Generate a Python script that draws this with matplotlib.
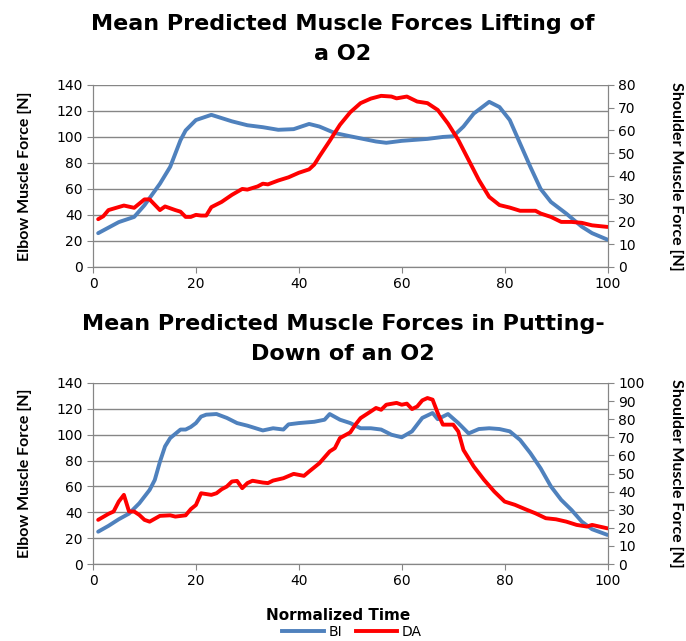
import matplotlib.pyplot as plt
from matplotlib.lines import Line2D

# lifting (top chart)
lift_bi_x = [1, 5, 8, 10, 13, 15, 17, 18, 20, 23, 27, 30, 33, 36, 39, 42, 44, 47, 50, 55,
             57, 60, 65, 68, 70, 72, 74, 77, 79, 81, 83, 85, 87, 89, 92, 95, 97, 100]
lift_bi = [26, 34.5, 38.5, 47.5, 64, 77, 97.5, 105, 113, 117, 112, 109, 107.5, 105.5, 106, 110, 108, 103, 100.5, 96.5,
           95.5, 97, 98.5, 100, 100.5, 108, 118, 127, 123, 113, 95, 77, 60, 50, 41, 31, 26, 21]
lift_da_x = [1, 2, 3, 6, 8, 10, 11, 13, 14, 16, 17, 18, 19, 20, 21, 22, 23, 25, 27, 29,
             30, 32, 33, 34, 36, 38, 40, 42, 43, 44, 46, 47, 48, 50, 52, 54, 56, 58, 59, 61,
             63, 65, 67, 69, 71, 73, 75, 77, 79, 81, 83, 86, 87, 89, 91, 93, 95, 97, 100]
lift_da = [21, 22.3, 25, 27, 26, 29.7, 29.7, 25, 26.6, 25, 24.3, 22, 22, 22.9, 22.6, 22.6, 26.3, 28.6, 31.7, 34.3,
           34, 35.4, 36.6, 36.3, 38, 39.4, 41.4, 42.9, 45, 48.6, 55.4, 59, 62.5, 68, 72, 74, 75.2, 74.9, 74.1, 74.9,
           72.7, 72, 69, 63, 55.8, 47, 38.2, 30.8, 27.2, 26.1, 24.7, 24.7, 23.5, 22, 19.8, 19.8, 19.4, 18.3, 17.6]

# putting down (bottom chart)
put_bi_x = [1, 3, 5, 7, 9, 11, 12, 13, 14, 15, 17, 18, 19, 20, 21, 22, 24, 26, 28, 30,
            33, 35, 37, 38, 40, 43, 45, 46, 48, 50, 52, 54, 56, 58, 60, 62, 64, 66, 67, 69,
            71, 73, 75, 77, 79, 81, 83, 85, 87, 89, 91, 93, 95, 97, 100]
put_bi = [25, 29.5, 34.6, 39, 47, 57.3, 65, 79, 91, 97.4, 104, 104, 106, 109, 114, 115.5, 116, 113, 109, 107,
          103.3, 105, 104, 108, 109, 110, 111.6, 116, 111.6, 109, 105, 105, 104, 100, 98, 102.6, 113, 116.8, 112, 116,
          109, 101, 104.4, 105, 104.4, 102.6, 96, 85.8, 74, 60, 49.6, 41.8, 32.8, 26.9, 22.5]
put_da_x = [1, 3, 4, 5, 6, 7, 8, 9, 10, 11, 13, 15, 16, 18, 19, 20, 21, 23, 24, 25,
            26, 27, 28, 29, 30, 31, 33, 34, 35, 37, 39, 41, 42, 44, 46, 47, 48, 50, 51, 52,
            54, 55, 56, 57, 59, 60, 61, 62, 63, 64, 65, 66, 67, 68, 70, 71, 72, 74, 76, 78,
            80, 82, 84, 86, 88, 90, 92, 94, 96, 97, 100]
put_da = [24.4, 27.7, 29, 34.5, 38.2, 29, 29, 27.1, 24.4, 23.4, 26.6, 26.9, 26.2, 26.9, 30.3, 32.6, 39.1, 38.2, 39.1, 41.3,
          42.8, 45.6, 45.9, 41.9, 44.7, 46, 45, 44.7, 46.1, 47.4, 49.8, 48.7, 51.1, 55.7, 62.2, 64, 69.6, 72.7, 77, 80.6,
          84.3, 86.2, 85.2, 88, 89, 88, 88.6, 85.6, 87, 90.4, 91.7, 90.8, 83.4, 77, 77, 73.2, 63, 53.9, 46.5, 40,
          34.5, 32.7, 30.3, 28, 25.3, 24.7, 23.4, 21.6, 20.7, 21.6, 19.7]

blue = '#4f81bd'
red = '#ff0000'
gray = '#868686'
label_font = ['Liberation Sans Narrow', 'Lato', 'DejaVu Sans']

fig = plt.figure(figsize=(6.86, 6.41), dpi=100)


def make_panel(rect, bx, by, rx, ry, rmax, rstep):
    ax = fig.add_axes(rect)
    ax2 = ax.twinx()
    ax.plot(bx, by, color=blue, lw=2.8, solid_capstyle='round', zorder=3)
    ax2.plot(rx, ry, color=red, lw=2.8, solid_capstyle='round', zorder=3)
    ax.set_xlim(0, 100)
    ax.set_ylim(0, 140)
    ax.set_xticks(range(0, 101, 20))
    ax.set_yticks(range(0, 141, 20))
    ax2.set_ylim(0, rmax)
    ax2.set_yticks(range(0, rmax + 1, rstep))
    ax.grid(axis='y', color=gray, lw=1)
    ax.set_axisbelow(True)
    for a in (ax, ax2):
        a.spines['top'].set_visible(False)
        for s in ('left', 'right', 'bottom'):
            a.spines[s].set_color(gray)
        a.tick_params(colors=gray, labelcolor='black', labelsize=10, length=4)
    ax.set_ylabel('Elbow Muscle Force [N]', fontsize=11.5, fontweight='bold',
                  family=label_font, va='center')
    ax.yaxis.set_label_coords(-0.133, 0.5)
    ax2.set_ylabel('Shoulder Muscle Force [N]', fontsize=11.5, fontweight='bold',
                   family=label_font, rotation=270, va='center')
    ax2.yaxis.set_label_coords(1.134, 0.5)
    return ax


make_panel([0.1356, 0.5835, 0.750, 0.284], lift_bi_x, lift_bi, lift_da_x, lift_da, 80, 10)
make_panel([0.1356, 0.1201, 0.750, 0.2824], put_bi_x, put_bi, put_da_x, put_da, 100, 10)

fig.text(0.5, 1 - 39 / 641, 'Mean Predicted Muscle Forces Lifting of\na O2', ha='center', va='center',
         fontsize=16, fontweight='bold', linespacing=1.65)
fig.text(0.5, 1 - 339 / 641, 'Mean Predicted Muscle Forces in Putting-\nDown of an O2', ha='center', va='center',
         fontsize=16, fontweight='bold', linespacing=1.65)
fig.text(338 / 686, 1 - 615 / 641, 'Normalized Time', ha='center', va='center',
         fontsize=11, fontweight='bold')

handles = [Line2D([], [], color=blue, lw=2.8), Line2D([], [], color=red, lw=2.8)]
fig.legend(handles, ['BI', 'DA'], loc='center', bbox_to_anchor=(352 / 686, 1 - 632 / 641),
           ncol=2, frameon=False, fontsize=10, handlelength=3, columnspacing=1.0,
           handletextpad=0.3, borderpad=0)

fig.savefig('out.png', dpi=100)
